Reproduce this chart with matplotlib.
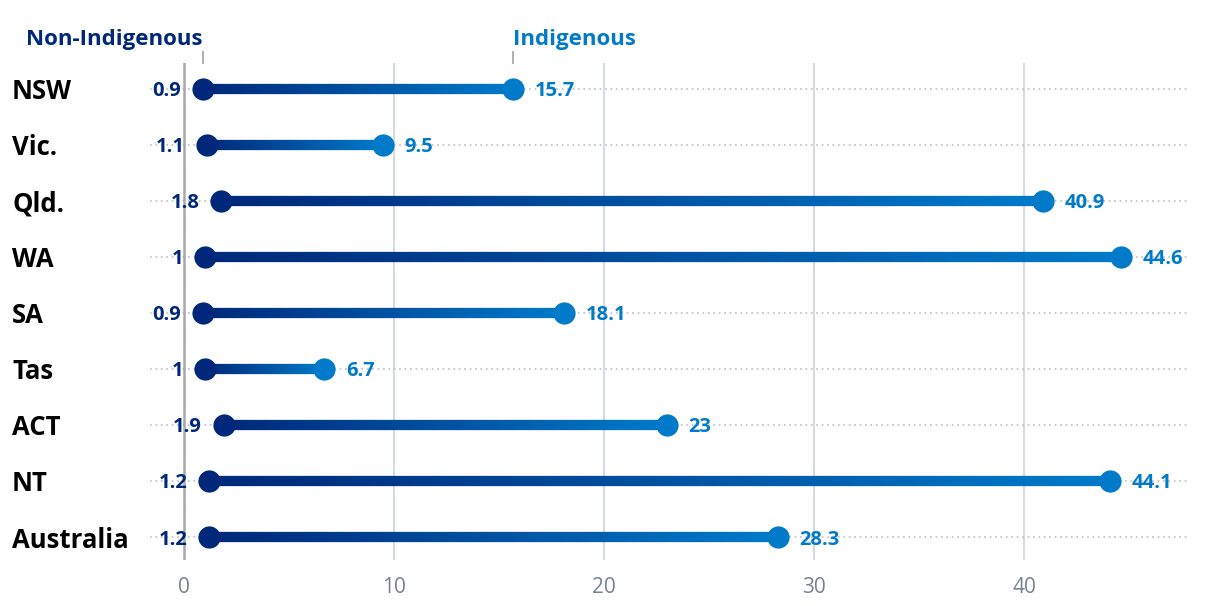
import numpy as np
import matplotlib
matplotlib.use("Agg")
import matplotlib.pyplot as plt
from matplotlib.collections import LineCollection
from matplotlib.colors import LinearSegmentedColormap

# Data
regions = ["NSW", "Vic.", "Qld.", "WA", "SA", "Tas", "ACT", "NT", "Australia"]
non_indigenous = [0.9, 1.1, 1.8, 1.0, 0.9, 1.0, 1.9, 1.2, 1.2]
indigenous = [15.7, 9.5, 40.9, 44.6, 18.1, 6.7, 23.0, 44.1, 28.3]
xticks = [0, 10, 20, 30, 40]

navy = "#00287a"
blue = "#007ac9"
cmap = LinearSegmentedColormap.from_list("grad", [navy, blue])

plt.rcParams['font.family'] = ['Open Sans', 'DejaVu Sans']

fig = plt.figure(figsize=(12.2, 6.06), dpi=100)
ax = fig.add_axes([150 / 1220, 1 - 560 / 606, 1040 / 1220, 497 / 606])

xmin, xmax = -1.6, 47.9
ax.set_xlim(xmin, xmax)
ax.set_ylim(8.41, -0.46)

# vertical gridlines
for t in xticks[1:]:
    ax.axvline(t, color="#d5dae3", lw=1.5, zorder=0)
ax.axvline(0, color="#a8a8a8", lw=1.8, zorder=1)


def fmt(v):
    return f"{v:g}"


for i, (a, b) in enumerate(zip(non_indigenous, indigenous)):
    # dotted guide line
    ax.plot([xmin, xmax], [i, i], color="#c3c7cf", lw=1.3, ls=(0, (1, 2)), zorder=0)
    # gradient bar from non-indigenous to indigenous value
    xs = np.linspace(a, b, 200)
    pts = np.array([xs, np.full_like(xs, i)]).T.reshape(-1, 1, 2)
    segs = np.concatenate([pts[:-1], pts[1:]], axis=1)
    lc = LineCollection(segs, cmap=cmap, linewidth=7.4, capstyle="butt", zorder=2)
    lc.set_array(np.linspace(0, 1, len(segs)))
    ax.add_collection(lc)
    ax.plot(a, i, "o", ms=16, color=navy, mec="none", zorder=3)
    ax.plot(b, i, "o", ms=16, color=blue, mec="none", zorder=3)
    ax.annotate(fmt(a), (a, i), xytext=(-15.5, 0), textcoords="offset points",
                ha="right", va="center_baseline", fontsize=14.5, fontweight="bold", color=navy)
    ax.annotate(fmt(b), (b, i), xytext=(15.5, 0), textcoords="offset points",
                ha="left", va="center_baseline", fontsize=14.5, fontweight="bold", color=blue)
    ax.annotate(regions[i], xy=(12 / 1220, i), xycoords=("figure fraction", "data"),
                ha="left", va="center_baseline", fontsize=18.5, fontweight="bold", color="black")

# series headers above the first row
ax.plot([non_indigenous[0]] * 2, [-0.66, -0.46], color="#a8a8a8", lw=1.3, clip_on=False)
ax.plot([indigenous[0]] * 2, [-0.66, -0.46], color="#a8a8a8", lw=1.3, clip_on=False)
ax.text(non_indigenous[0], -0.69, "Non-Indigenous", ha="right", va="bottom",
        fontsize=16, fontweight="bold", color=navy)
ax.text(indigenous[0], -0.69, "Indigenous", ha="left", va="bottom",
        fontsize=16, fontweight="bold", color=blue)

ax.set_xticks(xticks)
ax.set_xticklabels([str(t) for t in xticks], fontsize=15, color="#75819a")
ax.tick_params(axis="x", length=0, pad=12)
ax.set_yticks([])
for s in ax.spines.values():
    s.set_visible(False)

fig.savefig("out.png", dpi=100)
